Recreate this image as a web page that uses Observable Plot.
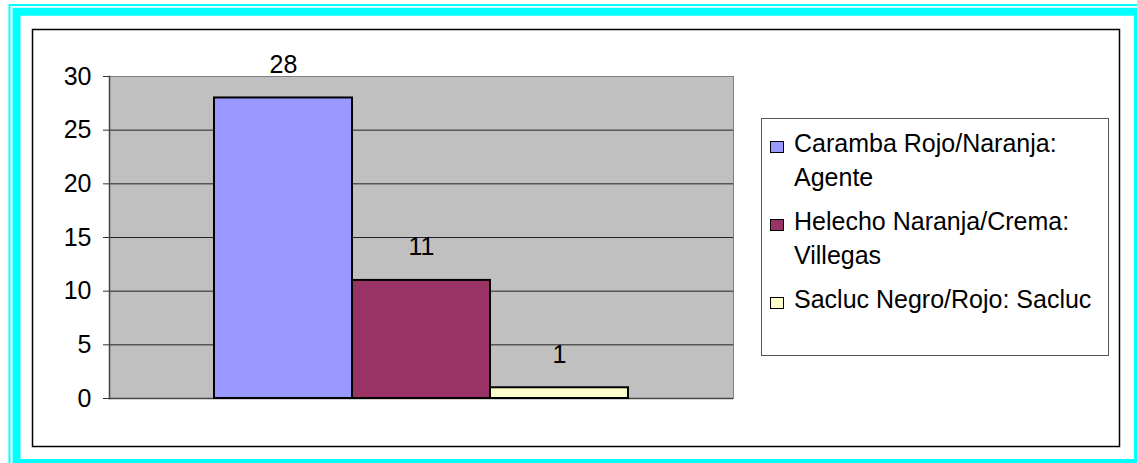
<!DOCTYPE html>
<html>
<head>
<meta charset="utf-8">
<script src="https://cdn.jsdelivr.net/npm/d3@7"></script>
<script src="https://cdn.jsdelivr.net/npm/@observablehq/plot@0.6"></script>
<style>
  html, body { margin: 0; padding: 0; background: #fff; }
  #wrap { position: relative; width: 1137px; height: 463px; overflow: hidden; font-family: "Liberation Sans", Arial, sans-serif; }
  #wrap svg { position: absolute; left: 0; top: 0; }
  #legend { position: absolute; left: 761px; top: 118px; width: 348px; height: 238px; border: 1px solid #555; background: #fff; box-sizing: border-box; padding-top: 7px; font-size: 25px; line-height: 34px; color: #000; }
  .item { display: flex; align-items: flex-start; margin-bottom: 10px; }
  .sw { width: 12px; height: 10px; border: 1.5px solid #000; margin-left: 8px; margin-top: 15px; flex: none; }
  .lab { margin-left: 10px; width: 315px; }
</style>
</head>
<body>
<div id="wrap"></div>
<script>
const series = ["Caramba Rojo/Naranja: Agente", "Helecho Naranja/Crema: Villegas", "Sacluc Negro/Rojo: Sacluc"];
const values = [28, 11, 1];
const colors = ["#9999FF", "#993366", "#FFFFCC"];
const yTicks = [0, 5, 10, 15, 20, 25, 30];

const data = series.map((name, i) => ({name, value: values[i]}));

const chart = Plot.plot({
  width: 1137,
  height: 463,
  marginLeft: 109,
  marginRight: 404,
  marginTop: 76,
  marginBottom: 65,
  style: {fontFamily: "Liberation Sans, Arial, sans-serif", fontSize: "25px", background: "transparent", color: "#000"},
  x: {domain: series, paddingInner: 0, paddingOuter: 0.745, axis: null},
  y: {domain: [0, 30]},
  color: {domain: series, range: colors},
  marks: [
    Plot.frame({fill: "#C0C0C0", stroke: "#808080"}),
    Plot.ruleY(yTicks.slice(1, -1), {stroke: "#222", strokeWidth: 1}),
    Plot.ruleY([0], {stroke: "#444", strokeWidth: 1.5}),
    Plot.frame({anchor: "left", stroke: "#444", strokeWidth: 1.5}),
    Plot.axisY({ticks: yTicks, tickSize: 6, tickPadding: 12, fontSize: 25, label: null, stroke: "#333"}),
    Plot.barY(data, {x: "name", y: "value", fill: "name", stroke: "#000", strokeWidth: 2}),
    Plot.text(data, {x: "name", y: "value", text: d => String(d.value), dy: -33, fontSize: 25, fill: "#000"})
  ]
});

// decorative frames behind the chart
const svg = d3.select(chart);
const deco = svg.insert("g", ":first-child");
deco.append("rect").attr("x", 9.5).attr("y", 5).attr("width", 1140).attr("height", 470)
  .attr("fill", "none").attr("stroke", "#00FFFF").attr("stroke-width", 2);
deco.append("rect").attr("x", 16.5).attr("y", 11.75).attr("width", 1121.5).attr("height", 451.25)
  .attr("fill", "#fff").attr("stroke", "#00FFFF").attr("stroke-width", 8);
deco.append("rect").attr("x", 32.5).attr("y", 29.5).attr("width", 1087).attr("height", 417)
  .attr("fill", "#fff").attr("stroke", "#000").attr("stroke-width", 1.5);

const wrap = document.getElementById("wrap");
wrap.appendChild(chart);

const legend = document.createElement("div");
legend.id = "legend";
series.forEach((name, i) => {
  const item = document.createElement("div");
  item.className = "item";
  const sw = document.createElement("div");
  sw.className = "sw";
  sw.style.background = colors[i];
  const lab = document.createElement("div");
  lab.className = "lab";
  lab.textContent = name;
  item.appendChild(sw);
  item.appendChild(lab);
  legend.appendChild(item);
});
wrap.appendChild(legend);
</script>
</body>
</html>
